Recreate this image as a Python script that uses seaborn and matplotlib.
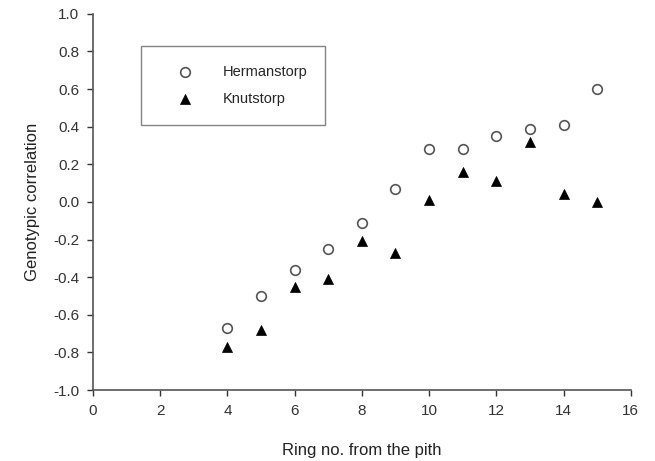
import matplotlib
matplotlib.use("Agg")
import matplotlib.pyplot as plt
import pandas as pd
import seaborn as sns

rings = [4, 5, 6, 7, 8, 9, 10, 11, 12, 13, 14, 15]
hermanstorp = [-0.67, -0.50, -0.36, -0.25, -0.11, 0.07, 0.28, 0.28, 0.35, 0.39, 0.41, 0.60]
knutstorp = [-0.77, -0.68, -0.45, -0.41, -0.21, -0.27, 0.01, 0.16, 0.11, 0.32, 0.04, 0.00]

df = pd.DataFrame({"ring": rings, "Hermanstorp": hermanstorp, "Knutstorp": knutstorp})

sns.set_style("ticks")
plt.rcParams["font.family"] = ["Liberation Sans", "DejaVu Sans"]

fig = plt.figure(figsize=(6.55, 4.61), dpi=100)
ax = fig.add_axes([0.142, 0.154, 0.821, 0.816])

sns.scatterplot(data=df, x="ring", y="Hermanstorp", marker="o", s=48,
                facecolor="white", edgecolor="#555555", linewidth=1.2,
                label="Hermanstorp", ax=ax)
sns.scatterplot(data=df, x="ring", y="Knutstorp", marker="^", s=52,
                color="black", edgecolor="black", linewidth=0.5,
                label="Knutstorp", ax=ax)

ax.set_xlim(0, 16)
ax.set_ylim(-1.0, 1.0)
ax.set_xticks(range(0, 17, 2))
ax.set_yticks([-1.0, -0.8, -0.6, -0.4, -0.2, 0.0, 0.2, 0.4, 0.6, 0.8, 1.0])
ax.yaxis.set_major_formatter(matplotlib.ticker.FormatStrFormatter("%.1f"))
ax.tick_params(labelsize=11, colors="#333333", length=4, width=1, pad=6)
for side in ["left", "bottom"]:
    ax.spines[side].set_color("#555555")
    ax.spines[side].set_linewidth(1.2)
sns.despine(ax=ax)

ax.set_xlabel("Ring no. from the pith", fontsize=12, labelpad=18, color="#222222")
ax.set_ylabel("Genotypic correlation", fontsize=12, labelpad=9, color="#222222")

leg = ax.legend(loc="upper left", bbox_to_anchor=(0.089, 0.707, 0.342, 0.208),
                mode="expand", fontsize=10.5, frameon=True, fancybox=False,
                handlelength=3.5, handletextpad=0.8, borderpad=1.3,
                labelspacing=0.9, borderaxespad=0)
leg.get_frame().set_edgecolor("#666666")
leg.get_frame().set_linewidth(1.0)

fig.savefig("out.png", dpi=100)
